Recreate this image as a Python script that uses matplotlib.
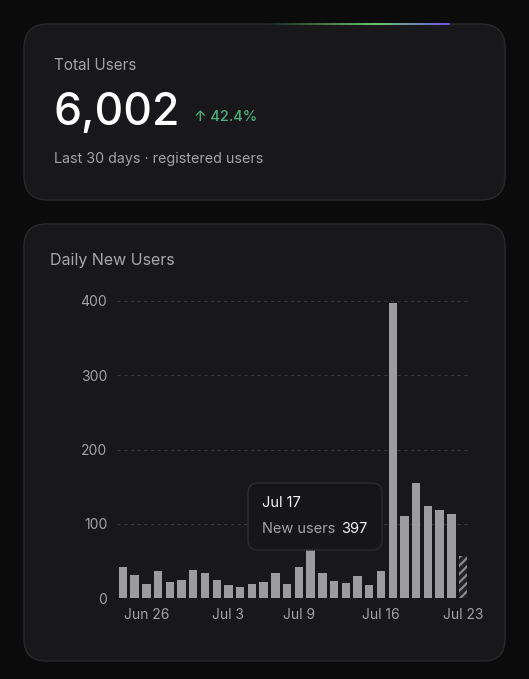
import numpy as np
import matplotlib.pyplot as plt
from matplotlib.patches import FancyBboxPatch

# daily new users, Jun 24 .. Jul 23 (last day still partial)
days = ["Jun 24", "Jun 25", "Jun 26", "Jun 27", "Jun 28", "Jun 29", "Jun 30",
        "Jul 1", "Jul 2", "Jul 3", "Jul 4", "Jul 5", "Jul 6", "Jul 7", "Jul 8",
        "Jul 9", "Jul 10", "Jul 11", "Jul 12", "Jul 13", "Jul 14", "Jul 15",
        "Jul 16", "Jul 17", "Jul 18", "Jul 19", "Jul 20", "Jul 21", "Jul 22", "Jul 23"]
new_users = [42, 31, 19, 37, 22, 24, 38, 34, 24, 17, 15, 19, 21, 33, 19,
             42, 66, 34, 23, 20, 29, 18, 36, 397, 111, 155, 124, 119, 113, 57]
tick_days = ["Jun 26", "Jul 3", "Jul 9", "Jul 16", "Jul 23"]
y_ticks = [0, 100, 200, 300, 400]

total_users = "6,002"
change = "↑ 42.4%"
tip_day = "Jul 17"
tip_value = "397"

W, H = 529, 679
FONT = ["Inter", "DejaVu Sans"]
plt.rcParams['font.family'] = FONT
plt.rcParams['hatch.linewidth'] = 1.6

fig = plt.figure(figsize=(W / 100, H / 100), dpi=100)
fig.patch.set_facecolor('#0b0b0c')

# background layer in pixel coordinates
bg = fig.add_axes([0, 0, 1, 1])
bg.set_xlim(0, W)
bg.set_ylim(H, 0)
bg.axis('off')

def card(x0, y0, x1, y1, r):
    p = FancyBboxPatch((x0 + r, y0 + r), (x1 - x0) - 2 * r, (y1 - y0) - 2 * r,
                       boxstyle="round,pad=%d" % r, facecolor='#18181a',
                       edgecolor='#2a2a2d', linewidth=1.0)
    bg.add_patch(p)

card(24, 24, 505, 200, 24)
card(24, 224, 505, 661, 22)

# gradient accent on the top card edge
grad = np.linspace(0, 1, 256)
cols = np.zeros((1, 256, 4))
for i, t in enumerate(grad):
    if t < 0.6:
        c = np.array([0.42, 0.78, 0.42])
        a = t / 0.6
    else:
        s = (t - 0.6) / 0.4
        c = np.array([0.42, 0.78, 0.42]) * (1 - s) + np.array([0.45, 0.32, 0.88]) * s
        a = 1.0
    cols[0, i, :3] = c
    cols[0, i, 3] = a
bg.imshow(cols, extent=(268, 450, 25.5, 23.5), aspect='auto', zorder=3)

# top card text
bg.text(54, 66, "Total Users", color='#a3a3a8', fontsize=11, va='center', ha='left')
bg.text(53, 113, total_users, color='#ffffff', fontsize=32, va='center', ha='left',
        fontweight='medium')
bg.text(194, 117, change, color='#4fae7e', fontsize=10.5, va='center', ha='left',
        family=FONT, fontweight='medium')
bg.text(54, 159, "Last 30 days · registered users", color='#a3a3a8', fontsize=10.3,
        va='center', ha='left')

bg.text(50, 261, "Daily New Users", color='#a8a8ad', fontsize=11.5, va='center', ha='left')

# bar chart
ax = fig.add_axes([117 / W, (H - 598) / H, 352 / W, 297 / H])
ax.set_facecolor('none')
x = np.arange(len(days))
ax.bar(x[:-1], new_users[:-1], width=0.72, color='#9c9c9e', zorder=2)
ax.bar(x[-1], new_users[-1], width=0.72, facecolor='#232325', edgecolor='#8a8a8c',
       hatch='////', linewidth=0, zorder=2)

ax.set_xlim(-0.5, len(days) - 0.5)
ax.set_ylim(0, 400)
ax.set_yticks(y_ticks)
ax.set_xticks([days.index(d) for d in tick_days])
ax.set_xticklabels(tick_days)
for v in y_ticks[1:]:
    ax.axhline(v, color='#3a3a3d', linewidth=0.8, linestyle=(0, (3, 3)), zorder=1)
ax.tick_params(length=0, colors='#a3a3a8', labelsize=10)
ax.tick_params(axis='x', pad=7)
ax.tick_params(axis='y', pad=7)
for s in ax.spines.values():
    s.set_visible(False)

# tooltip
tip = fig.add_axes([0, 0, 1, 1])
tip.set_xlim(0, W)
tip.set_ylim(H, 0)
tip.axis('off')
tip.add_patch(FancyBboxPatch((258, 493), 114, 47, boxstyle="round,pad=10",
                             facecolor='#161618', edgecolor='#2d2d30', linewidth=1.0))
tip.text(262, 503, tip_day, color='#f2f2f2', fontsize=10.5, va='center', ha='left')
tip.text(262, 529, "New users", color='#a3a3a8', fontsize=10.5, va='center', ha='left')
tip.text(367, 529, tip_value, color='#f2f2f2', fontsize=10.5, va='center', ha='right')

fig.savefig("out.png", dpi=100, facecolor=fig.get_facecolor())
